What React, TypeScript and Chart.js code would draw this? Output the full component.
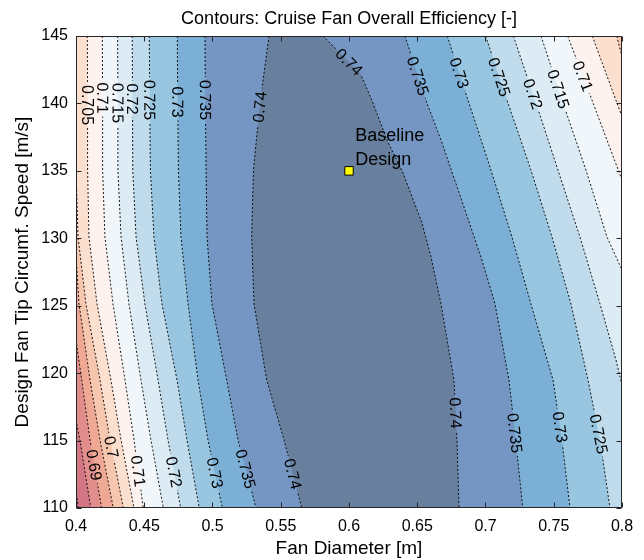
import React, { useEffect, useRef } from 'react';
import { Chart, registerables } from 'chart.js';

Chart.register(...registerables);

const FONT = '"Liberation Sans", Arial, Helvetica, sans-serif';

// Axis limits and ticks
const X_MIN = 0.4;
const X_MAX = 0.8;
const Y_MIN = 110;
const Y_MAX = 145;
const X_TICKS = [0.4, 0.45, 0.5, 0.55, 0.6, 0.65, 0.7, 0.75, 0.8];
const Y_TICKS = [110, 115, 120, 125, 130, 135, 140, 145];

// Contour levels and filled band colours (band below first level, then above each level)
const LEVELS = [0.68, 0.685, 0.69, 0.695, 0.7, 0.705, 0.71, 0.715, 0.72, 0.725, 0.73, 0.735, 0.74];
const BAND_COLORS = [
  '#c15f78', '#d27686', '#e08d8c', '#eea894', '#f6c6ae', '#fbdfcf', '#fdf2ee',
  '#f0f6f9', '#dcebf4', '#c0dcec', '#98c6e0', '#7cafd5', '#7596c2', '#687f9d',
];

type Pt = [number, number];

// Contour lines: [fan diameter, tip speed]
// Left branches (efficiency rising to the right)
const L680: Pt[] = [[0.4, 111.34], [0.4017, 110]];
const L685: Pt[] = [[0.4, 116.53], [0.4029, 115.04], [0.4108, 110]];
const L690: Pt[] = [[0.4, 122.46], [0.4042, 119.49], [0.4103, 115.04], [0.4188, 110]];
const L695: Pt[] = [[0.4, 128.76], [0.4022, 125.13], [0.4103, 119.49], [0.4176, 115.04], [0.4273, 110]];
const L700: Pt[] = [[0.4, 135.06], [0.4015, 130.1], [0.4073, 125.13], [0.4176, 119.49], [0.4249, 115.04], [0.4347, 110]];
const L705: Pt[] = [[0.4083, 145], [0.4085, 140.03], [0.4085, 135.06], [0.4095, 130.1], [0.4154, 125.13], [0.4256, 119.49], [0.433, 115.04], [0.4425, 110]];
const L710: Pt[] = [[0.4193, 145], [0.4195, 140.03], [0.4195, 135.06], [0.4212, 130.1], [0.4271, 125.13], [0.4359, 119.49], [0.4425, 115.04], [0.4493, 110]];
const L715: Pt[] = [[0.4305, 145], [0.4307, 140.03], [0.4307, 135.06], [0.433, 130.1], [0.4388, 125.13], [0.4476, 119.49], [0.4549, 115.04], [0.464, 110]];
const L720: Pt[] = [[0.4412, 145], [0.4414, 140.03], [0.4416, 135.06], [0.444, 130.1], [0.4505, 125.13], [0.4601, 119.49], [0.4674, 115.04], [0.4767, 110]];
const L725: Pt[] = [[0.4537, 145], [0.454, 140.03], [0.4545, 135.06], [0.4571, 130.1], [0.463, 125.13], [0.474, 119.49], [0.4813, 115.04], [0.4903, 110]];
const L730: Pt[] = [[0.4742, 145], [0.4745, 140.03], [0.475, 135.06], [0.4769, 130.1], [0.4821, 125.13], [0.4894, 119.49], [0.4967, 115.04], [0.5072, 110]];
const L735: Pt[] = [[0.4945, 145], [0.4948, 140.03], [0.4953, 135.06], [0.496, 130.1], [0.4996, 125.13], [0.5104, 119.49], [0.5187, 115.04], [0.5319, 110]];
const L740: Pt[] = [[0.5414, 145], [0.5348, 140.03], [0.53, 135.06], [0.5287, 130.1], [0.5304, 125.13], [0.5397, 119.49], [0.5524, 115.04], [0.5654, 110]];

// Right branches (efficiency falling to the right)
const R700: Pt[] = [[0.7961, 145], [0.8, 143.47]];
const R705: Pt[] = [[0.7782, 145], [0.8, 139.02]];
const R710: Pt[] = [[0.7602, 145], [0.7788, 140.03], [0.8, 134.32]];
const R715: Pt[] = [[0.7407, 145], [0.7568, 140.03], [0.7736, 135.06], [0.789, 130.1], [0.8, 127.65]];
const R720: Pt[] = [[0.7204, 145], [0.737, 140.03], [0.7531, 135.06], [0.7692, 130.1], [0.7839, 125.13], [0.7956, 120.98], [0.8, 119.12]];
const R725: Pt[] = [[0.7001, 145], [0.7165, 140.03], [0.7333, 135.06], [0.7487, 130.1], [0.7626, 125.13], [0.7751, 119.49], [0.7839, 115.04], [0.7912, 110]];
const R730: Pt[] = [[0.672, 145], [0.6879, 140.03], [0.704, 135.06], [0.7194, 130.1], [0.7333, 125.13], [0.7495, 119.49], [0.756, 115.04], [0.7619, 110]];
const R735: Pt[] = [[0.641, 145], [0.6498, 142.26], [0.6571, 140.03], [0.6674, 137.29], [0.685, 132.1], [0.6967, 128.61], [0.707, 125.13], [0.7172, 119.49], [0.7216, 115.56], [0.7273, 110]];
const R740: Pt[] = [[0.581, 145], [0.6081, 142.26], [0.6176, 140.03], [0.6278, 137.29], [0.6396, 134.84], [0.6535, 131.13], [0.6601, 128.61], [0.6674, 125.13], [0.6769, 119.49], [0.6791, 115.04], [0.6806, 110]];

const CONTOUR_LINES: Record<string, Pt[]> = {
  L680, L685, L690, L695, L700, L705, L710, L715, L720, L725, L730, L735, L740,
  R700, R705, R710, R715, R720, R725, R730, R735, R740,
};
const LEVEL_LEFT = ['L680', 'L685', 'L690', 'L695', 'L700', 'L705', 'L710', 'L715', 'L720', 'L725', 'L730', 'L735', 'L740'];
const LEVEL_RIGHT: (string | null)[] = [null, null, null, null, 'R700', 'R705', 'R710', 'R715', 'R720', 'R725', 'R730', 'R735', 'R740'];

// Contour labels: [text, line, tip speed where the label sits]
const LABELS: [string, string, number][] = [
  ['0.705', 'L705', 139.88], ['0.71', 'L710', 140.4], ['0.715', 'L715', 140.03], ['0.72', 'L720', 140.33],
  ['0.725', 'L725', 140.25], ['0.73', 'L730', 140.11], ['0.735', 'L735', 140.25], ['0.74', 'L740', 139.74],
  ['0.74', 'R740', 143.07], ['0.735', 'R735', 142.03], ['0.73', 'R730', 142.26], ['0.725', 'R725', 141.96],
  ['0.72', 'R720', 140.7], ['0.715', 'R715', 141.07], ['0.71', 'R710', 142.03],
  ['0.69', 'L690', 113.19], ['0.7', 'L700', 114.52], ['0.71', 'L710', 112.74], ['0.72', 'L720', 112.67],
  ['0.73', 'L730', 112.6], ['0.735', 'L735', 112.9], ['0.74', 'L740', 112.52],
  ['0.74', 'R740', 117.04], ['0.735', 'R735', 115.56], ['0.73', 'R730', 116.0], ['0.725', 'R725', 115.49],
];

// Baseline design point
const BASELINE_POINT: Pt = [0.6, 135];
const BASELINE_TEXT = ['Baseline', 'Design'];
const BASELINE_TEXT_X = 0.6045;
const BASELINE_TEXT_Y = [137.6, 135.8];

const LABEL_FONT = `16px ${FONT}`;

function regionAbove(left: Pt[], right: Pt[] | null): Pt[] {
  const pts: Pt[] = [];
  if (left[0][1] < Y_MAX) pts.push([X_MIN, Y_MAX]);
  pts.push(...left);
  if (!right) {
    pts.push([X_MAX, Y_MIN], [X_MAX, Y_MAX]);
  } else {
    const last = right[right.length - 1];
    if (last[0] >= X_MAX && last[1] > Y_MIN) pts.push([X_MAX, Y_MIN]);
    pts.push(...[...right].reverse());
  }
  return pts;
}

function lineXAt(pts: Pt[], y: number) {
  for (let i = 0; i < pts.length - 1; i++) {
    const [x0, y0] = pts[i];
    const [x1, y1] = pts[i + 1];
    if ((y - y0) * (y - y1) <= 0 && y0 !== y1) {
      const t = (y - y0) / (y1 - y0);
      return { x: x0 + t * (x1 - x0), i };
    }
  }
  return { x: pts[0][0], i: 0 };
}

type Geom = { text: string; key: string; px: number; py: number; ang: number; w: number; h: number };

function computeLabels(chart: any): Geom[] {
  const ctx = chart.ctx as CanvasRenderingContext2D;
  const xs = chart.scales.x;
  const ys = chart.scales.y;
  ctx.save();
  ctx.font = LABEL_FONT;
  const out = LABELS.map(([text, key, y]) => {
    const pts = CONTOUR_LINES[key];
    const { x, i } = lineXAt(pts, y);
    const ax = xs.getPixelForValue(pts[i][0]);
    const ay = ys.getPixelForValue(pts[i][1]);
    const bx = xs.getPixelForValue(pts[i + 1][0]);
    const by = ys.getPixelForValue(pts[i + 1][1]);
    let ang = Math.atan2(by - ay, bx - ax);
    if (ang > Math.PI / 2) ang -= Math.PI;
    if (ang <= -Math.PI / 2) ang += Math.PI;
    return { text, key, px: xs.getPixelForValue(x), py: ys.getPixelForValue(y), ang, w: ctx.measureText(text).width, h: 15 };
  });
  ctx.restore();
  return out;
}

const contourPlugin = {
  id: 'contourDecor',
  beforeDatasetsDraw(chart: any) {
    const { ctx, chartArea } = chart;
    ctx.save();
    ctx.fillStyle = BAND_COLORS[0];
    ctx.fillRect(chartArea.left, chartArea.top, chartArea.right - chartArea.left, chartArea.bottom - chartArea.top);
    ctx.restore();
    chart.$labelGeoms = computeLabels(chart);
  },
  beforeDatasetDraw(chart: any, args: any) {
    const ds = chart.data.datasets[args.index] as any;
    if (!ds.lineKey) return;
    const geoms: Geom[] = (chart.$labelGeoms || []).filter((g: Geom) => g.key === ds.lineKey);
    const ctx = chart.ctx as CanvasRenderingContext2D;
    ctx.save();
    ds.$clipped = true;
    if (!geoms.length) return;
    ctx.beginPath();
    ctx.rect(0, 0, chart.width, chart.height);
    geoms.forEach((g) => {
      const c = Math.cos(g.ang);
      const s = Math.sin(g.ang);
      const hw = g.w / 2 + 3;
      const hh = g.h / 2;
      const corners = [[-hw, -hh], [hw, -hh], [hw, hh], [-hw, hh]].map(([u, v]) => [g.px + u * c - v * s, g.py + u * s + v * c]);
      ctx.moveTo(corners[0][0], corners[0][1]);
      for (let k = 1; k < 4; k++) ctx.lineTo(corners[k][0], corners[k][1]);
      ctx.closePath();
    });
    ctx.clip('evenodd');
  },
  afterDatasetDraw(chart: any, args: any) {
    const ds = chart.data.datasets[args.index] as any;
    if (ds.lineKey && ds.$clipped) {
      chart.ctx.restore();
      ds.$clipped = false;
    }
  },
  afterDatasetsDraw(chart: any) {
    const { ctx, chartArea } = chart;
    const xs = chart.scales.x;
    const ys = chart.scales.y;
    ctx.save();
    // contour labels
    ctx.font = LABEL_FONT;
    ctx.fillStyle = '#000';
    ctx.textAlign = 'center';
    ctx.textBaseline = 'middle';
    (chart.$labelGeoms || []).forEach((g: Geom) => {
      ctx.save();
      ctx.translate(g.px, g.py);
      ctx.rotate(g.ang);
      ctx.fillText(g.text, 0, 1);
      ctx.restore();
    });
    // baseline annotation text
    ctx.font = `18px ${FONT}`;
    ctx.textAlign = 'left';
    BASELINE_TEXT.forEach((t, k) => {
      ctx.fillText(t, xs.getPixelForValue(BASELINE_TEXT_X), ys.getPixelForValue(BASELINE_TEXT_Y[k]));
    });
    // axes box and inward ticks
    ctx.strokeStyle = '#262626';
    ctx.lineWidth = 1;
    const L = Math.round(chartArea.left) + 0.5;
    const R = Math.round(chartArea.right) - 0.5;
    const T = Math.round(chartArea.top) + 0.5;
    const B = Math.round(chartArea.bottom) - 0.5;
    ctx.beginPath();
    ctx.rect(L, T, R - L, B - T);
    const tl = 5;
    X_TICKS.forEach((v) => {
      const p = Math.round(xs.getPixelForValue(v)) + 0.5;
      ctx.moveTo(p, B); ctx.lineTo(p, B - tl);
      ctx.moveTo(p, T); ctx.lineTo(p, T + tl);
    });
    Y_TICKS.forEach((v) => {
      const p = Math.round(ys.getPixelForValue(v)) + 0.5;
      ctx.moveTo(L, p); ctx.lineTo(L + tl, p);
      ctx.moveTo(R, p); ctx.lineTo(R - tl, p);
    });
    ctx.stroke();
    ctx.restore();
  },
};

export default function App() {
  const canvasRef = useRef<HTMLCanvasElement | null>(null);

  useEffect(() => {
    document.body.style.margin = '0';
    const canvas = canvasRef.current;
    if (!canvas) return;

    const fillSets = LEVELS.map((lvl, i) => {
      const left = CONTOUR_LINES[LEVEL_LEFT[i]];
      const rk = LEVEL_RIGHT[i];
      const right = rk ? CONTOUR_LINES[rk] : null;
      return {
        label: `>= ${lvl}`,
        data: regionAbove(left, right).map(([x, y]) => ({ x, y })),
        fill: 'shape',
        backgroundColor: BAND_COLORS[i + 1],
        borderColor: 'rgba(0,0,0,0)',
        borderWidth: 0,
        pointRadius: 0,
        tension: 0,
        order: 100 - i,
      };
    });

    const lineSets = Object.keys(CONTOUR_LINES).map((key) => ({
      label: key,
      lineKey: key,
      data: CONTOUR_LINES[key].map(([x, y]) => ({ x, y })),
      fill: false,
      borderColor: '#000',
      borderWidth: 0.9,
      borderDash: [2, 2],
      pointRadius: 0,
      tension: 0,
      order: 1,
    }));

    const markerSet = {
      label: 'Baseline Design',
      data: [{ x: BASELINE_POINT[0], y: BASELINE_POINT[1] }],
      showLine: false,
      pointStyle: 'rect',
      pointRadius: 6,
      backgroundColor: '#ffff00',
      borderColor: '#000',
      borderWidth: 1,
      order: 0,
    };

    const chart = new Chart(canvas, {
      type: 'line',
      data: { datasets: [...fillSets, ...lineSets, markerSet] as any },
      options: {
        responsive: false,
        animation: false,
        events: [],
        layout: { padding: { left: 0, right: 22, top: 0, bottom: 0 } },
        plugins: {
          legend: { display: false },
          tooltip: { enabled: false },
          title: {
            display: true,
            text: 'Contours: Cruise Fan Overall Efficiency [-]',
            color: '#000',
            fullSize: false,
            font: { family: FONT, size: 18, weight: 'normal' },
            padding: { top: 8, bottom: 6.4 },
          },
        },
        scales: {
          x: {
            type: 'linear',
            min: X_MIN,
            max: X_MAX,
            afterBuildTicks: (s: any) => { s.ticks = X_TICKS.map((v) => ({ value: v })); },
            afterFit: (s: any) => { s.height = 52; },
            ticks: {
              color: '#000',
              padding: 9,
              font: { family: FONT, size: 16 },
              callback: (v: any) => String(Math.round(Number(v) * 100) / 100),
            },
            grid: { display: false, drawTicks: false },
            border: { display: false },
            title: {
              display: true,
              text: 'Fan Diameter [m]',
              color: '#000',
              font: { family: FONT, size: 19 },
              padding: { top: 0, bottom: 0 },
            },
          },
          y: {
            type: 'linear',
            min: Y_MIN,
            max: Y_MAX,
            afterBuildTicks: (s: any) => { s.ticks = Y_TICKS.map((v) => ({ value: v })); },
            afterFit: (s: any) => { s.width = 76; },
            ticks: {
              color: '#000',
              padding: 8,
              font: { family: FONT, size: 16 },
              callback: (v: any) => String(v),
            },
            grid: { display: false, drawTicks: false },
            border: { display: false },
            title: {
              display: true,
              text: 'Design Fan Tip Circumf. Speed [m/s]',
              color: '#000',
              font: { family: FONT, size: 19 },
              padding: { top: 11, bottom: 0 },
            },
          },
        },
      } as any,
      plugins: [contourPlugin],
    });

    return () => chart.destroy();
  }, []);

  return (
    <div style={{ width: 644, height: 560 }}>
      <canvas ref={canvasRef} width={644} height={560} style={{ display: 'block' }} />
    </div>
  );
}
